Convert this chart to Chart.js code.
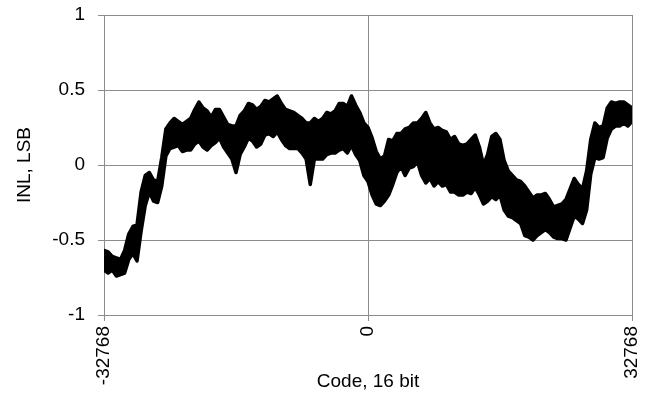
<!DOCTYPE html>
<html>
<head>
<meta charset="utf-8">
<script src="https://cdn.jsdelivr.net/npm/chart.js@4/dist/chart.umd.min.js"></script>
<style>
  html, body { margin: 0; padding: 0; background: #ffffff; }
  #wrap { width: 649px; height: 393px; position: relative; }
</style>
</head>
<body>
<div id="wrap"><canvas id="c" width="649" height="393"></canvas></div>
<script>
// Sample codes (x), 16-bit
const codes = [
  -32768,-32256,-31744,-31232,-30720,-30208,-29696,-29184,-28672,-28160,-27648,-27136,-26624,-26112,-25600,-25088,
  -24576,-24064,-23552,-23040,-22528,-22016,-21504,-20992,-20480,-19968,-19456,-18944,-18432,-17920,-17408,-16896,
  -16384,-15872,-15360,-14848,-14336,-13824,-13312,-12800,-12288,-11776,-11264,-10752,-10240,-9728,-9216,-8704,
  -8192,-7680,-7168,-6656,-6144,-5632,-5120,-4608,-4096,-3584,-3072,-2560,-2048,-1536,-1024,-512,
  0,512,1024,1536,2048,2560,3072,3584,4096,4608,5120,5632,6144,6656,7168,7680,
  8192,8704,9216,9728,10240,10752,11264,11776,12288,12800,13312,13824,14336,14848,15360,15872,
  16384,16896,17408,17920,18432,18944,19456,19968,20480,20992,21504,22016,22528,23040,23552,24064,
  24576,25088,25600,26112,26624,27136,27648,28160,28672,29184,29696,30208,30720,31232,31744,32256,
  32768
];
// Upper edge of the INL trace (LSB)
const inlUpper = [
  -0.57,-0.58,-0.61,-0.62,-0.63,-0.57,-0.46,-0.41,-0.40,-0.18,-0.07,-0.05,-0.10,-0.11,0.05,0.24,
  0.28,0.31,0.29,0.27,0.29,0.31,0.37,0.42,0.38,0.36,0.32,0.37,0.37,0.32,0.27,0.26,
  0.26,0.33,0.36,0.41,0.40,0.37,0.39,0.43,0.42,0.44,0.46,0.41,0.37,0.36,0.35,0.33,
  0.31,0.28,0.28,0.31,0.29,0.31,0.35,0.34,0.36,0.41,0.41,0.39,0.46,0.40,0.35,0.28,
  0.25,0.18,0.09,0.04,0.06,0.17,0.16,0.21,0.21,0.24,0.25,0.28,0.28,0.31,0.35,0.28,
  0.24,0.25,0.23,0.22,0.17,0.19,0.14,0.13,0.14,0.17,0.20,0.12,0.00,0.07,0.19,0.21,
  0.17,0.03,-0.04,-0.07,-0.10,-0.11,-0.14,-0.18,-0.22,-0.20,-0.20,-0.19,-0.23,-0.28,-0.27,-0.26,
  -0.23,-0.16,-0.09,-0.13,-0.16,-0.04,0.17,0.28,0.25,0.26,0.38,0.42,0.41,0.42,0.42,0.40,
  0.38
];
// Lower edge of the INL trace (LSB)
const inlLower = [
  -0.70,-0.72,-0.70,-0.74,-0.73,-0.72,-0.63,-0.59,-0.64,-0.44,-0.27,-0.18,-0.24,-0.25,-0.14,0.06,
  0.11,0.12,0.13,0.09,0.10,0.10,0.14,0.16,0.12,0.10,0.13,0.15,0.18,0.12,0.08,0.04,
  -0.05,0.07,0.12,0.18,0.16,0.12,0.14,0.20,0.21,0.19,0.22,0.17,0.13,0.11,0.11,0.11,
  0.08,0.04,-0.13,0.04,0.04,0.04,0.07,0.08,0.08,0.10,0.11,0.08,0.13,0.07,0.03,-0.07,
  -0.11,-0.20,-0.26,-0.27,-0.24,-0.20,-0.13,-0.05,-0.01,-0.07,-0.02,-0.01,0.02,-0.07,-0.12,-0.09,
  -0.14,-0.11,-0.14,-0.13,-0.18,-0.18,-0.20,-0.20,-0.18,-0.19,-0.15,-0.20,-0.26,-0.24,-0.21,-0.23,
  -0.20,-0.30,-0.34,-0.35,-0.37,-0.39,-0.47,-0.48,-0.50,-0.47,-0.45,-0.43,-0.45,-0.48,-0.49,-0.49,
  -0.50,-0.42,-0.34,-0.36,-0.39,-0.30,-0.06,0.05,0.04,0.05,0.18,0.24,0.26,0.26,0.28,0.26,
  0.29
];
const xTicks = [-32768, 0, 32768];
const xTickLabels = ['-32768', '0', '32768'];
const yTicks = [-1, -0.5, 0, 0.5, 1];
const yTickLabels = ['-1', '-0.5', '0', '0.5', '1'];
const xTitle = 'Code, 16 bit';
const yTitle = 'INL, LSB';

const FONT = '"Liberation Sans", Arial, sans-serif';
const FS = 19;
const GRID = '#8c8c8c';

const upperPts = codes.map((c, i) => ({ x: c, y: inlUpper[i] }));
const lowerPts = codes.map((c, i) => ({ x: c, y: inlLower[i] }));

new Chart(document.getElementById('c'), {
  type: 'line',
  data: {
    datasets: [
      {
        label: 'INL upper',
        data: upperPts,
        borderColor: '#000000',
        backgroundColor: '#000000',
        borderWidth: 3.5,
        borderJoinStyle: 'round',
        borderCapStyle: 'round',
        pointRadius: 0,
        tension: 0,
        fill: false
      },
      {
        label: 'INL lower',
        data: lowerPts,
        borderColor: '#000000',
        backgroundColor: '#000000',
        borderWidth: 3.5,
        borderJoinStyle: 'round',
        borderCapStyle: 'round',
        pointRadius: 0,
        tension: 0,
        fill: '-1'
      }
    ]
  },
  options: {
    responsive: false,
    animation: false,
    devicePixelRatio: 1,
    layout: { padding: { top: 15, right: 17, left: 0, bottom: 0 } },
    plugins: {
      legend: { display: false },
      tooltip: { enabled: false },
      filler: { propagate: false }
    },
    scales: {
      x: {
        type: 'linear',
        min: -32768,
        max: 32768,
        offset: false,
        afterBuildTicks: (s) => { s.ticks = xTicks.map(v => ({ value: v })); },
        afterFit: (s) => { s.height = 78; s.paddingLeft = 0; s.paddingRight = 0; },
        ticks: {
          autoSkip: false,
          maxRotation: 90,
          minRotation: 90,
          padding: 5,
          color: '#000000',
          font: { family: FONT, size: FS },
          callback: (v) => { const i = xTicks.indexOf(v); return i >= 0 ? xTickLabels[i] : ''; }
        },
        grid: { color: GRID, lineWidth: 1, tickLength: 6, drawTicks: true },
        border: { display: true, color: GRID, width: 1 },
        title: {
          display: true,
          text: xTitle,
          color: '#000000',
          font: { family: FONT, size: FS },
          padding: { top: 0, bottom: 0 }
        }
      },
      y: {
        type: 'linear',
        min: -1,
        max: 1,
        afterBuildTicks: (s) => { s.ticks = yTicks.map(v => ({ value: v })); },
        afterFit: (s) => { s.width = 104; s.paddingTop = 0; s.paddingBottom = 0; },
        ticks: {
          padding: 13,
          color: '#000000',
          font: { family: FONT, size: FS },
          callback: (v) => { const i = yTicks.indexOf(v); return i >= 0 ? yTickLabels[i] : ''; }
        },
        grid: { color: GRID, lineWidth: 1, tickLength: 6, drawTicks: true },
        border: { display: true, color: GRID, width: 1 },
        title: {
          display: true,
          text: yTitle,
          color: '#000000',
          font: { family: FONT, size: FS },
          padding: { top: 13, bottom: 0 }
        }
      }
    }
  }
});
</script>
</body>
</html>
